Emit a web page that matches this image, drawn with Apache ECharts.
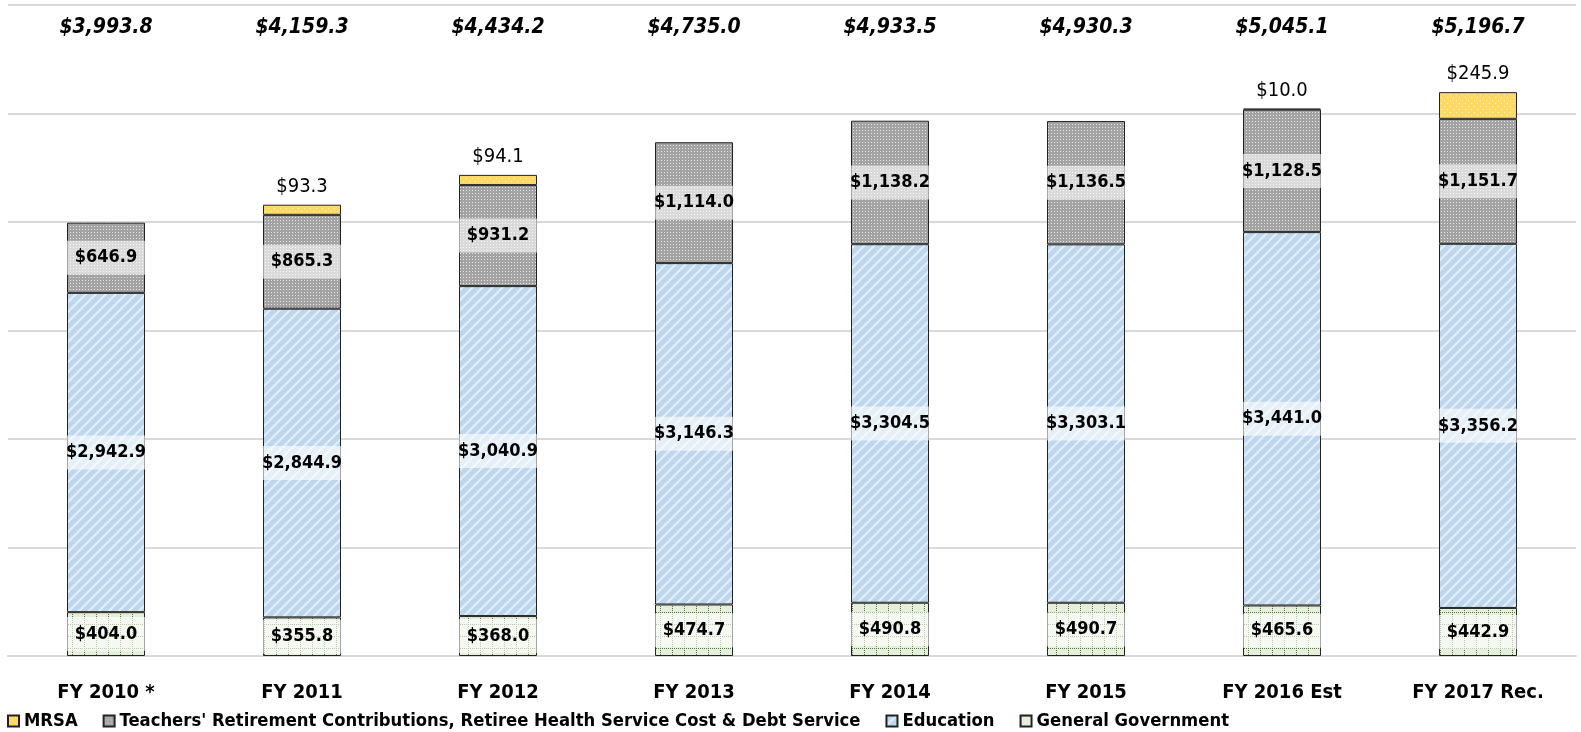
<!DOCTYPE html>
<html>
<head>
<meta charset="utf-8">
<script src="https://cdn.jsdelivr.net/npm/echarts@6/dist/echarts.min.js"></script>
<style>
  html, body { margin: 0; padding: 0; background: #fff; }
  #chart { width: 1581px; height: 732px; }
</style>
</head>
<body>
<div id="chart"></div>
<script>
const categories = ['FY 2010 *', 'FY 2011', 'FY 2012', 'FY 2013', 'FY 2014', 'FY 2015', 'FY 2016 Est', 'FY 2017 Rec.']
const generalGov = [404.0, 355.8, 368.0, 474.7, 490.8, 490.7, 465.6, 442.9]
const education = [2942.9, 2844.9, 3040.9, 3146.3, 3304.5, 3303.1, 3441.0, 3356.2]
const teachers = [646.9, 865.3, 931.2, 1114.0, 1138.2, 1136.5, 1128.5, 1151.7]
const mrsa = [null, 93.3, 94.1, null, null, null, 10.0, 245.9]
const totals = [3993.8, 4159.3, 4434.2, 4735.0, 4933.5, 4930.3, 5045.1, 5196.7]

const FONT = '"DejaVu Sans Condensed", "Liberation Sans", sans-serif'

function tile (w, h, draw) {
  const c = document.createElement('canvas')
  c.width = w
  c.height = h
  draw(c.getContext('2d'), w, h)
  return { image: c, repeat: 'repeat' }
}

// diagonal white stripes on light blue
const eduFill = tile(10, 10, (ctx, w, h) => {
  ctx.fillStyle = '#BDD7EE'
  ctx.fillRect(0, 0, w, h)
  ctx.strokeStyle = 'rgba(255,255,255,0.6)'
  ctx.lineWidth = 2
  ctx.beginPath()
  ctx.moveTo(-2, h + 2); ctx.lineTo(w + 2, -2)
  ctx.moveTo(-2, 2); ctx.lineTo(2, -2)
  ctx.moveTo(w - 2, h + 2); ctx.lineTo(w + 2, h - 2)
  ctx.stroke()
})
// small light dots on gray
const trcFill = tile(3, 3, (ctx, w, h) => {
  ctx.fillStyle = '#A3A3A3'
  ctx.fillRect(0, 0, w, h)
  ctx.fillStyle = '#E6E6E6'
  ctx.fillRect(1, 1, 1, 1)
})
// dotted grid on pale green
const ggFill = tile(12, 12, (ctx, w, h) => {
  ctx.fillStyle = '#E6EFDC'
  ctx.fillRect(0, 0, w, h)
  ctx.fillStyle = '#4F7A38'
  for (let i = 0; i < h; i += 2) ctx.fillRect(0, i, 1, 1)
  for (let i = 0; i < w; i += 2) ctx.fillRect(i, 0, 1, 1)
})
// white dots on yellow
const mrsaFill = tile(6, 6, (ctx, w, h) => {
  ctx.fillStyle = '#FFD966'
  ctx.fillRect(0, 0, w, h)
  ctx.fillStyle = '#FFF4D0'
  ctx.fillRect(1, 1, 1, 1)
  ctx.fillRect(4, 4, 1, 1)
})

const money = v => '$' + v.toLocaleString('en-US', { minimumFractionDigits: 1, maximumFractionDigits: 1 })

const BAR_W = 78
const innerLabel = {
  show: true,
  position: 'inside',
  formatter: p => money(p.value),
  fontFamily: FONT,
  fontWeight: 'bold',
  fontSize: 18,
  color: '#000',
  width: BAR_W,
  align: 'center',
  overflow: 'none',
  padding: [8, 0],
  backgroundColor: 'rgba(255,255,255,0.6)'
}

function stackSeries (name, data, fill, label) {
  return {
    name,
    type: 'bar',
    stack: 'total',
    barWidth: BAR_W,
    data,
    itemStyle: { color: fill, borderColor: '#222', borderWidth: 1 },
    label
  }
}

const chart = echarts.init(document.getElementById('chart'))
chart.setOption({
  animation: false,
  grid: { left: 8, right: 5, top: 5, bottom: 76 },
  legend: {
    left: 2,
    top: 707,
    icon: 'rect',
    itemWidth: 11,
    itemHeight: 11,
    itemGap: 25,
    textStyle: { fontFamily: FONT, fontWeight: 'bold', fontSize: 18.3, color: '#000' },
    data: ['MRSA', "Teachers' Retirement Contributions, Retiree Health Service Cost & Debt Service", 'Education', 'General Government']
  },
  xAxis: [
    {
      type: 'category',
      data: categories,
      axisLine: { lineStyle: { color: '#D9D9D9', width: 2 } },
      axisTick: { show: false },
      axisLabel: { fontFamily: FONT, fontWeight: 'bold', fontSize: 20, color: '#000', margin: 27 }
    },
    {
      type: 'category',
      position: 'top',
      data: totals.map(money),
      axisLine: { show: false },
      axisTick: { show: false },
      axisLabel: {
        inside: true,
        margin: 12,
        fontFamily: FONT,
        fontWeight: 'bold',
        fontStyle: 'italic',
        fontSize: 21,
        color: '#000'
      }
    }
  ],
  yAxis: {
    type: 'value',
    min: 0,
    max: 6000,
    interval: 1000,
    axisLabel: { show: false },
    axisLine: { show: false },
    axisTick: { show: false },
    splitLine: { lineStyle: { color: '#D9D9D9', width: 2 } }
  },
  series: [
    stackSeries('General Government', generalGov, ggFill, innerLabel),
    stackSeries('Education', education, eduFill, innerLabel),
    stackSeries("Teachers' Retirement Contributions, Retiree Health Service Cost & Debt Service", teachers, trcFill, innerLabel),
    stackSeries('MRSA', mrsa, mrsaFill, {
      show: true,
      position: 'top',
      distance: 8,
      formatter: p => (p.value == null ? '' : money(p.value)),
      fontFamily: FONT,
      fontSize: 20,
      color: '#000'
    })
  ]
})
</script>
</body>
</html>
